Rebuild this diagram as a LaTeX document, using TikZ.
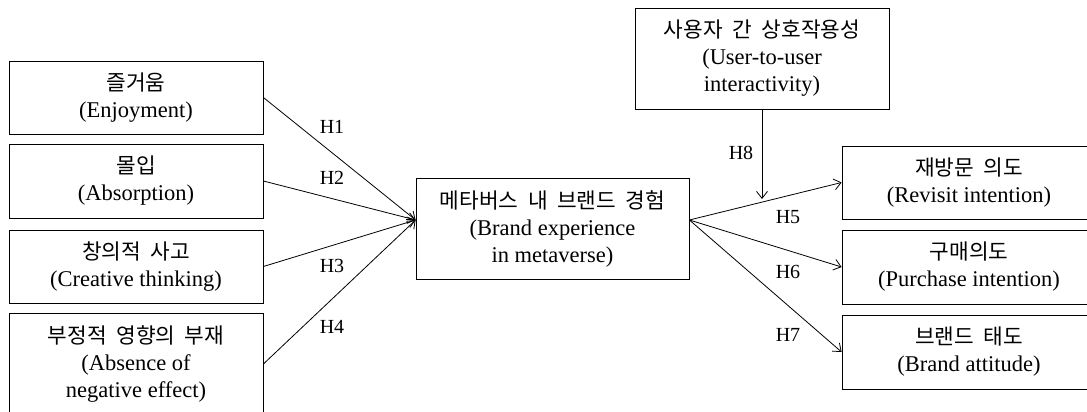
\documentclass[tikz,border=0pt]{standalone}
\usepackage{fontspec}
\setmainfont{Liberation Serif}
\newfontfamily\kr[Scale=0.95,WordSpace=2]{Noto Sans CJK KR}
\usetikzlibrary{arrows.meta}
\begin{document}
\begin{tikzpicture}[x=1pt,y=-1pt,
  box/.style={draw, line width=0.8pt, inner sep=0pt, minimum width=254pt, align=center,
    font=\fontsize{22.5}{27}\selectfont},
  arr/.style={line width=0.8pt, -{Straight Barb[length=7pt,width=11pt,line width=0.8pt]}},
  hlab/.style={font=\fontsize{20}{24}\selectfont, inner sep=0pt}]
\useasboundingbox (0,0) rectangle (1087,412);
\clip (0,0) rectangle (1087,412);
% left boxes
\node[box, minimum height=73pt] (l1) at (136,97.5) {{\kr 즐거움}\\(Enjoyment)};
\node[box, minimum height=74pt] (l2) at (136,181) {{\kr 몰입}\\(Absorption)};
\node[box, minimum height=73pt] (l3) at (136,266.5) {{\kr 창의적 사고}\\(Creative thinking)};
\node[box, minimum height=102pt] (l4) at (136,364) {{\kr 부정적 영향의 부재}\\(Absence of\\negative effect)};
% center
\node[box, minimum width=273pt, minimum height=101pt] (c) at (552.5,228.5) {{\kr 메타버스 내 브랜드 경험}\\(Brand experience\\in metaverse)};
% top
\node[box, minimum height=101pt] (t) at (762,58.5) {{\kr 사용자 간 상호작용성}\\(User-to-user\\interactivity)};
% right
\node[box, minimum height=73pt] (r1) at (969,182.5) {{\kr 재방문 의도}\\(Revisit intention)};
\node[box, minimum height=74pt] (r2) at (969,267) {{\kr 구매의도}\\(Purchase intention)};
\node[box, minimum height=74pt] (r3) at (969,352) {{\kr 브랜드 태도}\\(Brand attitude)};
% junctions
\coordinate (jin) at ([yshift=8.5pt]c.west);
\coordinate (jout) at ([yshift=8.5pt]c.east);
\coordinate (h8end) at (762,199);
% connectors
\draw[arr] (l1.east) -- (jin);
\draw[arr] (l2.east) -- (jin);
\draw[arr] (l3.east) -- (jin);
\draw[arr] (l4.east) -- (jin);
\draw[arr] (jout) -- (r1.west);
\draw[arr] (jout) -- (r2.west);
\draw[arr] (jout) -- (r3.west);
\draw[arr] (t.south) -- (h8end);
% labels
\node[hlab] (h1) at (332,127) {H1};
\node[hlab] (h2) at (332,178) {H2};
\node[hlab] (h3) at (332,266) {H3};
\node[hlab] (h4) at (332,327) {H4};
\node[hlab] (h5) at (788,217) {H5};
\node[hlab] (h6) at (788,272) {H6};
\node[hlab] (h7) at (788,335) {H7};
\node[hlab] (h8) at (741,153) {H8};
\end{tikzpicture}
\end{document}
